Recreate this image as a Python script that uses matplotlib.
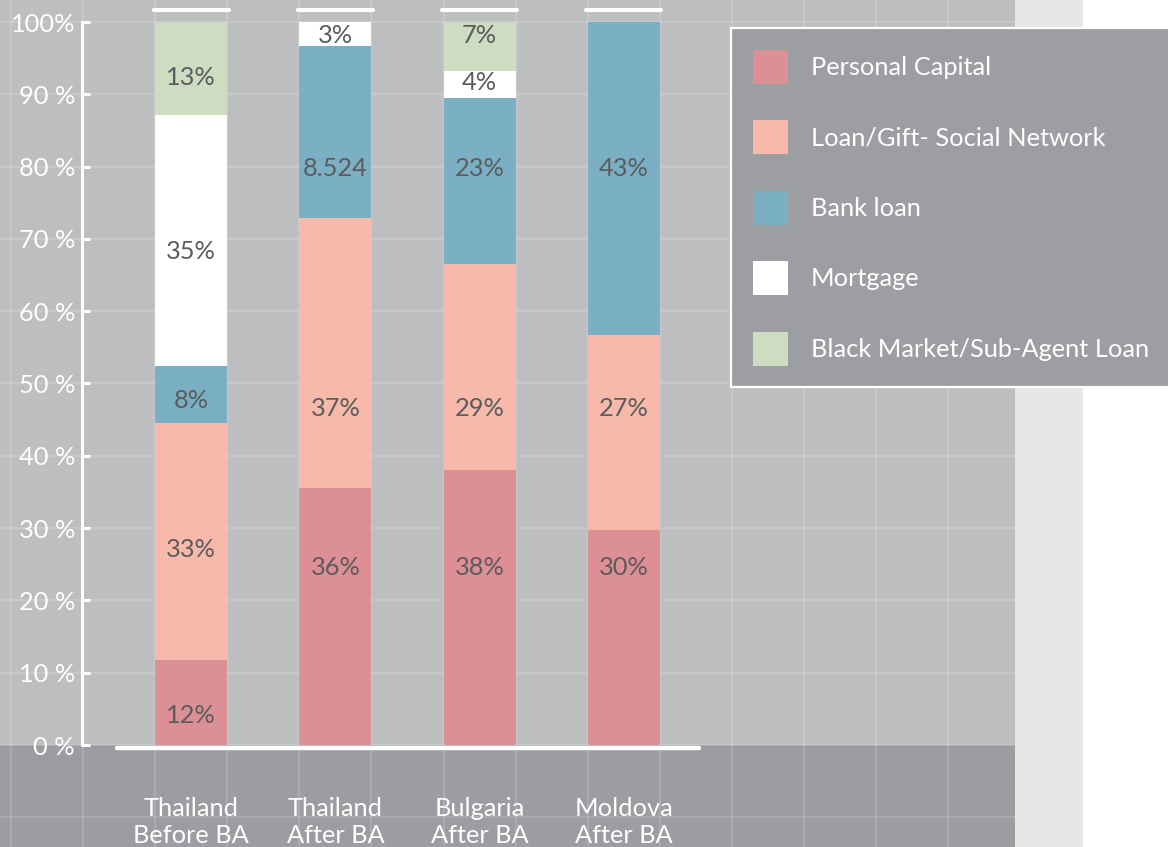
import matplotlib
matplotlib.use('Agg')
import matplotlib.pyplot as plt
from matplotlib.patches import Rectangle, Patch
import numpy as np

# data
groups = ['Thailand\nBefore BA', 'Thailand\nAfter BA', 'Bulgaria\nAfter BA', 'Moldova\nAfter BA']
series = ['Personal Capital', 'Loan/Gift- Social Network', 'Bank loan', 'Mortgage',
          'Black Market/Sub-Agent Loan']
colors = ['#dc8f94', '#f7b9aa', '#7aafc4', '#ffffff', '#cedcc2']

personal = [11.8, 35.5, 38.0, 29.7]
loan_gift = [32.7, 37.4, 28.5, 27.0]
bank_loan = [7.9, 23.8, 23.0, 43.3]
mortgage = [34.7, 3.3, 3.7, 0.0]
black_market = [12.9, 0.0, 6.8, 0.0]

personal_lbl = ['12%', '36%', '38%', '30%']
loan_lbl = ['33%', '37%', '29%', '27%']
bank_lbl = ['8%', '8.524', '23%', '43%']
mortgage_lbl = ['35%', '3%', '4%', '']
black_lbl = ['13%', '', '7%', '']

# where the value labels sit (percent units)
personal_y = [4.1, 24.5, 24.5, 24.5]
loan_y = [27.0, 46.6, 46.6, 46.6]
bank_y = [47.6, 79.7, 79.7, 79.7]
mortgage_y = [68.2, 98.2, 91.6, 0]
black_y = [92.3, 0, 98.2, 0]

yticks = [0, 10, 20, 30, 40, 50, 60, 70, 80, 90, 100]
ytick_labels = ['0 %', '10 %', '20 %', '30 %', '40 %', '50 %', '60 %', '70 %', '80 %', '90 %', '100%']

font = 'Lato'
fs = 18.3
W, H = 1168, 847

fig = plt.figure(figsize=(W / 100, H / 100), dpi=100)
ax = fig.add_axes([0, 0, 1, 1])
ax.set_facecolor('white')

# pixel -> data mapping (144.2 px per group, 7.23 px per percent)
x0, sx = 191.2, 144.2
y0, sy = 745, 7.23
ax.set_xlim(-x0 / sx, (W - x0) / sx)
ax.set_ylim(-(H - y0) / sy, y0 / sy)


def px(x):
    return (x - x0) / sx


# backgrounds
ax.add_patch(Rectangle((px(0), 0), px(1015) - px(0), 110, color='#bdbec0', zorder=0, lw=0))
ax.add_patch(Rectangle((px(0), -20), px(1015) - px(0), 20, color='#9c9da1', zorder=0, lw=0))
ax.add_patch(Rectangle((px(1015), -20), px(1083) - px(1015), 130, color='#e7e7e7', zorder=0, lw=0))

# grid
for gx in np.arange(-1.25, px(1015), 0.5):
    ax.plot([gx, gx], [-20, 110], color='white', alpha=0.15, lw=1.6, zorder=1)
for gy in np.arange(-10, 101, 10):
    ax.plot([px(0), px(1015)], [gy, gy], color='white', alpha=0.15, lw=1.6, zorder=1)

# stacked bars
xs = np.arange(len(groups))
vals = [personal, loan_gift, bank_loan, mortgage, black_market]
lbls = [personal_lbl, loan_lbl, bank_lbl, mortgage_lbl, black_lbl]
lys = [personal_y, loan_y, bank_y, mortgage_y, black_y]
bottom = np.zeros(len(groups))
for v, c, name in zip(vals, colors, series):
    ax.bar(xs, v, 0.5, bottom=bottom, color=c, lw=0, zorder=3, label=name)
    bottom += np.array(v)
for lab, yy in zip(lbls, lys):
    for i in xs:
        if lab[i]:
            ax.text(i, yy[i], lab[i], ha='center', va='center', fontsize=fs,
                    color='#5c5c5e', family=font, zorder=5)

# white caps above bars and base line
for i in xs:
    ax.plot([i - 0.26, i + 0.26], [101.7, 101.7], color='white', lw=3, solid_capstyle='round', zorder=4)
ax.plot([px(117), px(699)], [-0.45, -0.45], color='white', lw=3.2, solid_capstyle='round', zorder=4)

# y axis
for s in ['top', 'right', 'bottom']:
    ax.spines[s].set_visible(False)
ax.spines['left'].set_position(('data', px(82)))
ax.spines['left'].set_bounds(0, 100)
ax.spines['left'].set_color('white')
ax.spines['left'].set_linewidth(2.2)
ax.spines['left'].set_zorder(4)
ax.set_yticks(yticks)
ax.set_yticklabels(ytick_labels)
ax.tick_params(axis='y', direction='in', length=6, width=2.2, color='white',
               labelcolor='white', labelsize=fs, pad=5)
for t in ax.get_yticklabels():
    t.set_family(font)
ax.set_xticks([])

# group labels
for i, g in zip(xs, groups):
    ax.text(i, -10.6, g, ha='center', va='center', fontsize=fs, color='white',
            family=font, linespacing=1.22)

# legend
handles = [Patch(facecolor=c, edgecolor='none') for c in colors]
leg = ax.legend(handles, series, loc='upper left', bbox_to_anchor=(731 / W, 1 - 28 / H),
                bbox_transform=fig.transFigure, frameon=True, fancybox=False,
                facecolor='#9d9ea2', edgecolor='white', framealpha=1,
                prop={'family': font, 'size': fs},
                handlelength=1.38, handleheight=1.69, handletextpad=0.9,
                labelspacing=1.43, borderpad=0.85, borderaxespad=0)
leg.get_frame().set_linewidth(1.6)
for t in leg.get_texts():
    t.set_color('white')

fig.savefig('out.png', dpi=100)
